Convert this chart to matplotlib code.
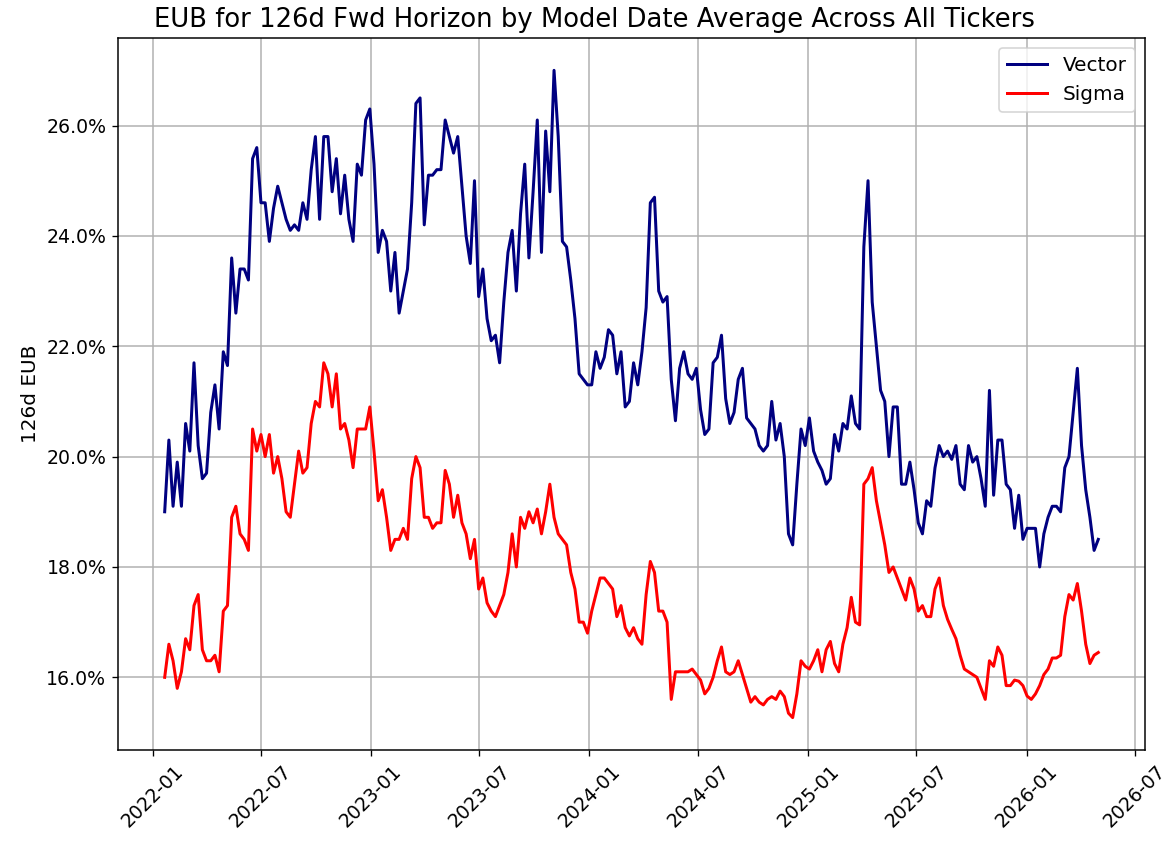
import pandas as pd
import matplotlib
matplotlib.use("Agg")
import matplotlib.pyplot as plt
import matplotlib.dates as mdates
from matplotlib.ticker import PercentFormatter

plt.rcParams["font.size"] = 11.3
plt.rcParams["grid.linewidth"] = 0.9
plt.rcParams["axes.linewidth"] = 0.9

# weekly model dates, average EUB across tickers (in %)
start_date = "2022-01-21"

vector = [
    19.0, 20.3, 19.1, 19.9, 19.1, 20.6, 20.1, 21.7, 20.2, 19.6,
    19.7, 20.8, 21.3, 20.5, 21.9, 21.65, 23.6, 22.6, 23.4, 23.4,
    23.2, 25.4, 25.6, 24.6, 24.6, 23.9, 24.5, 24.9, 24.6, 24.3,
    24.1, 24.2, 24.1, 24.6, 24.3, 25.2, 25.8, 24.3, 25.8, 25.8,
    24.8, 25.4, 24.4, 25.1, 24.3, 23.9, 25.3, 25.1, 26.1, 26.3,
    25.3, 23.7, 24.1, 23.9, 23.0, 23.7, 22.6, 23.0, 23.4, 24.6,
    26.4, 26.5, 24.2, 25.1, 25.1, 25.2, 25.2, 26.1, 25.8, 25.5,
    25.8, 24.9, 24.0, 23.5, 25.0, 22.9, 23.4, 22.5, 22.1, 22.2,
    21.7, 22.8, 23.7, 24.1, 23.0, 24.4, 25.3, 23.6, 24.8, 26.1,
    23.7, 25.9, 24.8, 27.0, 25.8, 23.9, 23.8, 23.2, 22.5, 21.5,
    21.4, 21.3, 21.3, 21.9, 21.6, 21.8, 22.3, 22.2, 21.5, 21.9,
    20.9, 21.0, 21.7, 21.3, 21.9, 22.7, 24.6, 24.7, 23.0, 22.8,
    22.9, 21.4, 20.65, 21.6, 21.9, 21.5, 21.4, 21.6, 20.85, 20.4,
    20.5, 21.7, 21.8, 22.2, 21.05, 20.6, 20.8, 21.4, 21.6, 20.7,
    20.6, 20.5, 20.2, 20.1, 20.2, 21.0, 20.3, 20.6, 20.0, 18.6,
    18.4, 19.5, 20.5, 20.2, 20.7, 20.1, 19.9, 19.75, 19.5, 19.6,
    20.4, 20.1, 20.6, 20.5, 21.1, 20.6, 20.5, 23.8, 25.0, 22.8,
    22.0, 21.2, 21.0, 20.0, 20.9, 20.9, 19.5, 19.5, 19.9, 19.4,
    18.8, 18.6, 19.2, 19.1, 19.8, 20.2, 20.0, 20.1, 19.95, 20.2,
    19.5, 19.4, 20.2, 19.9, 20.0, 19.6, 19.1, 21.2, 19.3, 20.3,
    20.3, 19.5, 19.4, 18.7, 19.3, 18.5, 18.7, 18.7, 18.7, 18.0,
    18.6, 18.9, 19.1, 19.1, 19.0, 19.8, 20.0, 20.8, 21.6, 20.2,
    19.4, 18.9, 18.3, 18.5,
]

sigma = [
    16.0, 16.6, 16.3, 15.8, 16.1, 16.7, 16.5, 17.3, 17.5, 16.5,
    16.3, 16.3, 16.4, 16.1, 17.2, 17.3, 18.9, 19.1, 18.6, 18.5,
    18.3, 20.5, 20.1, 20.4, 20.0, 20.4, 19.7, 20.0, 19.6, 19.0,
    18.9, 19.5, 20.1, 19.7, 19.8, 20.6, 21.0, 20.9, 21.7, 21.5,
    20.9, 21.5, 20.5, 20.6, 20.3, 19.8, 20.5, 20.5, 20.5, 20.9,
    20.1, 19.2, 19.4, 18.9, 18.3, 18.5, 18.5, 18.7, 18.5, 19.6,
    20.0, 19.8, 18.9, 18.9, 18.7, 18.8, 18.8, 19.75, 19.5, 18.9,
    19.3, 18.8, 18.6, 18.15, 18.5, 17.6, 17.8, 17.35, 17.2, 17.1,
    17.3, 17.5, 17.9, 18.6, 18.0, 18.9, 18.7, 19.0, 18.8, 19.05,
    18.6, 19.0, 19.5, 18.9, 18.6, 18.5, 18.4, 17.9, 17.6, 17.0,
    17.0, 16.8, 17.2, 17.5, 17.8, 17.8, 17.7, 17.6, 17.1, 17.3,
    16.9, 16.75, 16.9, 16.7, 16.6, 17.5, 18.1, 17.9, 17.2, 17.2,
    17.0, 15.6, 16.1, 16.1, 16.1, 16.1, 16.15, 16.05, 15.95, 15.7,
    15.8, 16.0, 16.3, 16.55, 16.1, 16.05, 16.1, 16.3, 16.05, 15.8,
    15.55, 15.65, 15.55, 15.5, 15.6, 15.65, 15.6, 15.75, 15.65, 15.35,
    15.27, 15.7, 16.3, 16.2, 16.15, 16.3, 16.5, 16.1, 16.5, 16.65,
    16.25, 16.1, 16.6, 16.9, 17.45, 17.0, 16.95, 19.5, 19.6, 19.8,
    19.2, 18.8, 18.4, 17.9, 18.0, 17.8, 17.6, 17.4, 17.8, 17.6,
    17.2, 17.3, 17.1, 17.1, 17.6, 17.8, 17.3, 17.05, 16.87, 16.7,
    16.4, 16.15, 16.1, 16.05, 16.0, 15.8, 15.6, 16.3, 16.2, 16.55,
    16.4, 15.85, 15.85, 15.95, 15.93, 15.85, 15.66, 15.6, 15.7, 15.85,
    16.05, 16.15, 16.35, 16.35, 16.4, 17.1, 17.5, 17.4, 17.7, 17.2,
    16.6, 16.25, 16.4, 16.45,
]

dates = pd.date_range(start_date, periods=len(vector), freq="7D")

fig, ax = plt.subplots(figsize=(1173 / 120, 842 / 120), dpi=120)
fig.subplots_adjust(left=0.1006, right=0.9761, top=0.9549, bottom=0.1093)

ax.plot(dates, vector, color="navy", lw=1.8, label="Vector")
ax.plot(dates, sigma, color="red", lw=1.8, label="Sigma")

# titre centre sur la figure (pas sur les axes), comme dans l'original
fig.suptitle("EUB for 126d Fwd Horizon by Model Date Average Across All Tickers",
             fontsize=15.5, x=0.507, y=0.992, va="top")
ax.set_ylabel("126d EUB", fontsize=12)
ax.yaxis.set_major_formatter(PercentFormatter(xmax=100, decimals=1))
ax.xaxis.set_major_locator(mdates.MonthLocator(bymonth=[1, 7]))
ax.xaxis.set_major_formatter(mdates.DateFormatter("%Y-%m"))
plt.setp(ax.get_xticklabels(), rotation=45)
ax.grid(True)
ax.legend(loc="upper right", fontsize=12)

fig.savefig("out.png", dpi=120)
